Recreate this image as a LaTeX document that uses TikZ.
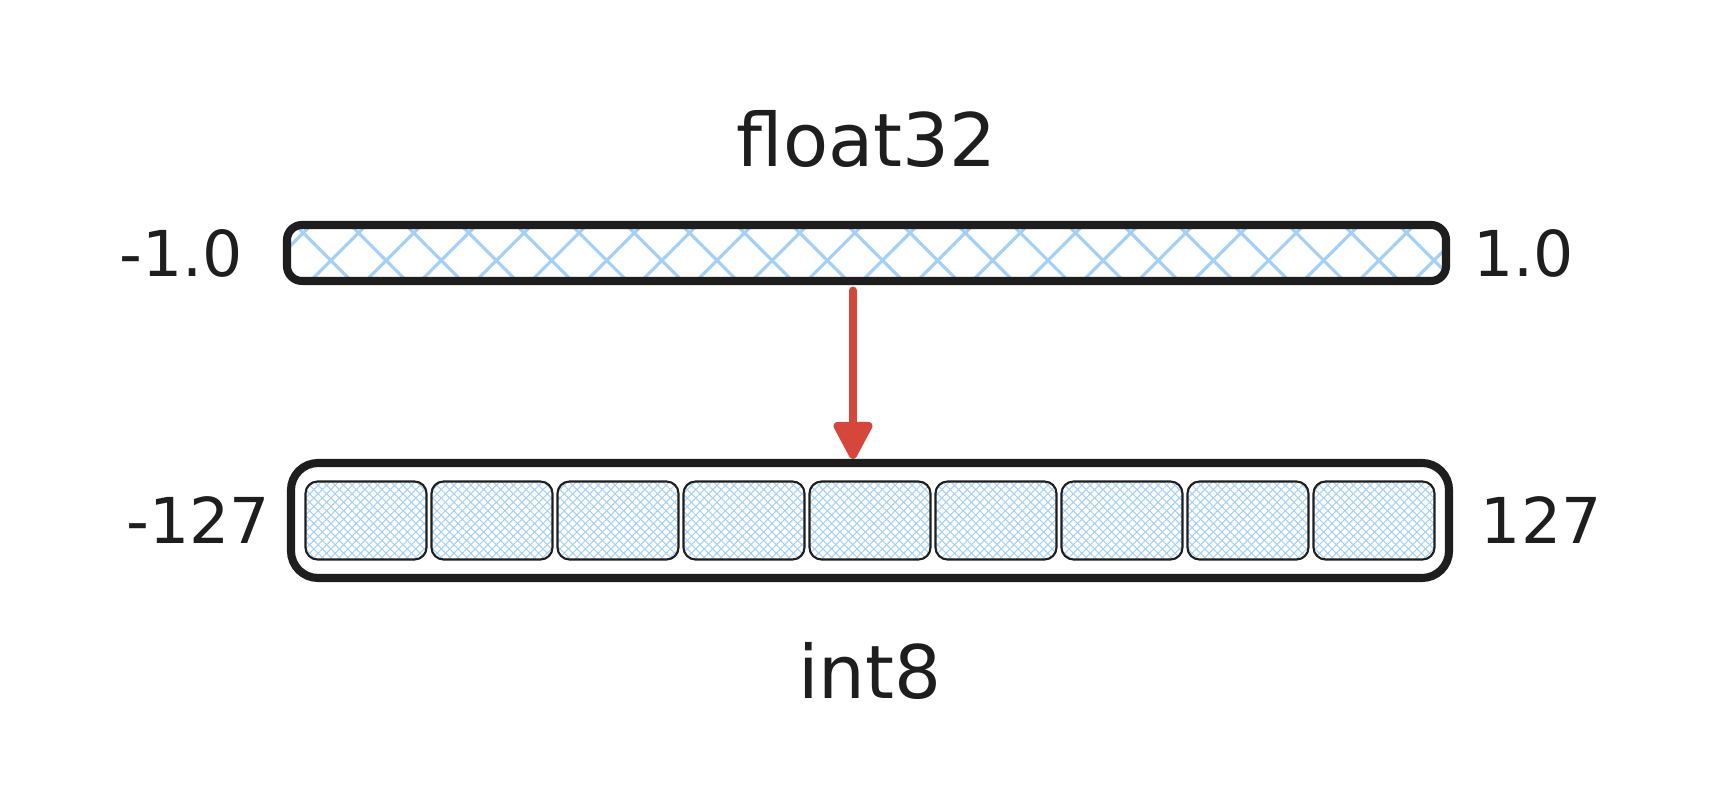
\documentclass[tikz,border=0pt]{standalone}
\usepackage{fontspec}
\setmainfont{DejaVu Sans}
\usetikzlibrary{positioning,arrows.meta,patterns.meta}
\definecolor{inkblack}{RGB}{30,30,30}
\definecolor{hatchblue}{RGB}{165,208,245}
\definecolor{arrowred}{RGB}{213,70,59}

\begin{document}
\begin{tikzpicture}[x=1cm,y=1cm,
  rangebar/.style={draw=inkblack,line width=2.3pt,inner sep=0pt},
  cell/.style={draw=inkblack,line width=0.6pt,rounded corners=0.12cm,minimum width=1.21cm,minimum height=0.78cm,inner sep=0pt,
    pattern={Lines[angle=45,distance=0.06cm,line width=0.3pt]},pattern color=hatchblue,
    preaction={pattern={Lines[angle=-45,distance=0.06cm,line width=0.3pt]},pattern color=hatchblue}},
  lbl/.style={font=\fontsize{21}{24}\selectfont,text=inkblack,inner sep=0pt},
  numlbl/.style={font=\fontsize{18}{21}\selectfont,text=inkblack,inner sep=0pt},
  quantarrow/.style={draw=arrowred,line width=2.3pt,line cap=round,shorten <=0.08cm,-{Triangle[width=0.42cm,length=0.42cm,round]}}]
\useasboundingbox (0,0) rectangle (17.32,8.12);
\node[rangebar,rounded corners=0.15cm,minimum width=11.59cm,minimum height=0.56cm,
  pattern={Lines[angle=45,distance=0.39cm,line width=0.9pt]},pattern color=hatchblue,
  preaction={pattern={Lines[angle=-45,distance=0.39cm,line width=0.9pt]},pattern color=hatchblue}] (float) at (8.665,5.59) {};
\node[rangebar,rounded corners=0.27cm,minimum width=11.58cm,minimum height=1.15cm] (int) at (8.70,2.915) {};
\foreach \k in {0,...,8}
  \node[cell] (c\k) at ([xshift=(\k-4)*1.26cm]int.center) {};
\node[lbl,above=0.55cm of float] (title) {float32};
\node[numlbl,left=0.42cm of float] (fmin) {-1.0};
\node[numlbl,right=0.25cm of float] (fmax) {1.0};
\node[numlbl,left=0.16cm of int] (imin) {-127};
\node[numlbl,right=0.27cm of int] (imax) {127};
\node[lbl,below=0.6cm of int] (caption) {int8};
\draw[quantarrow] ([xshift=-0.135cm]float.south) -- ([xshift=-0.135cm]float.south |- int.north);
\end{tikzpicture}
\end{document}
